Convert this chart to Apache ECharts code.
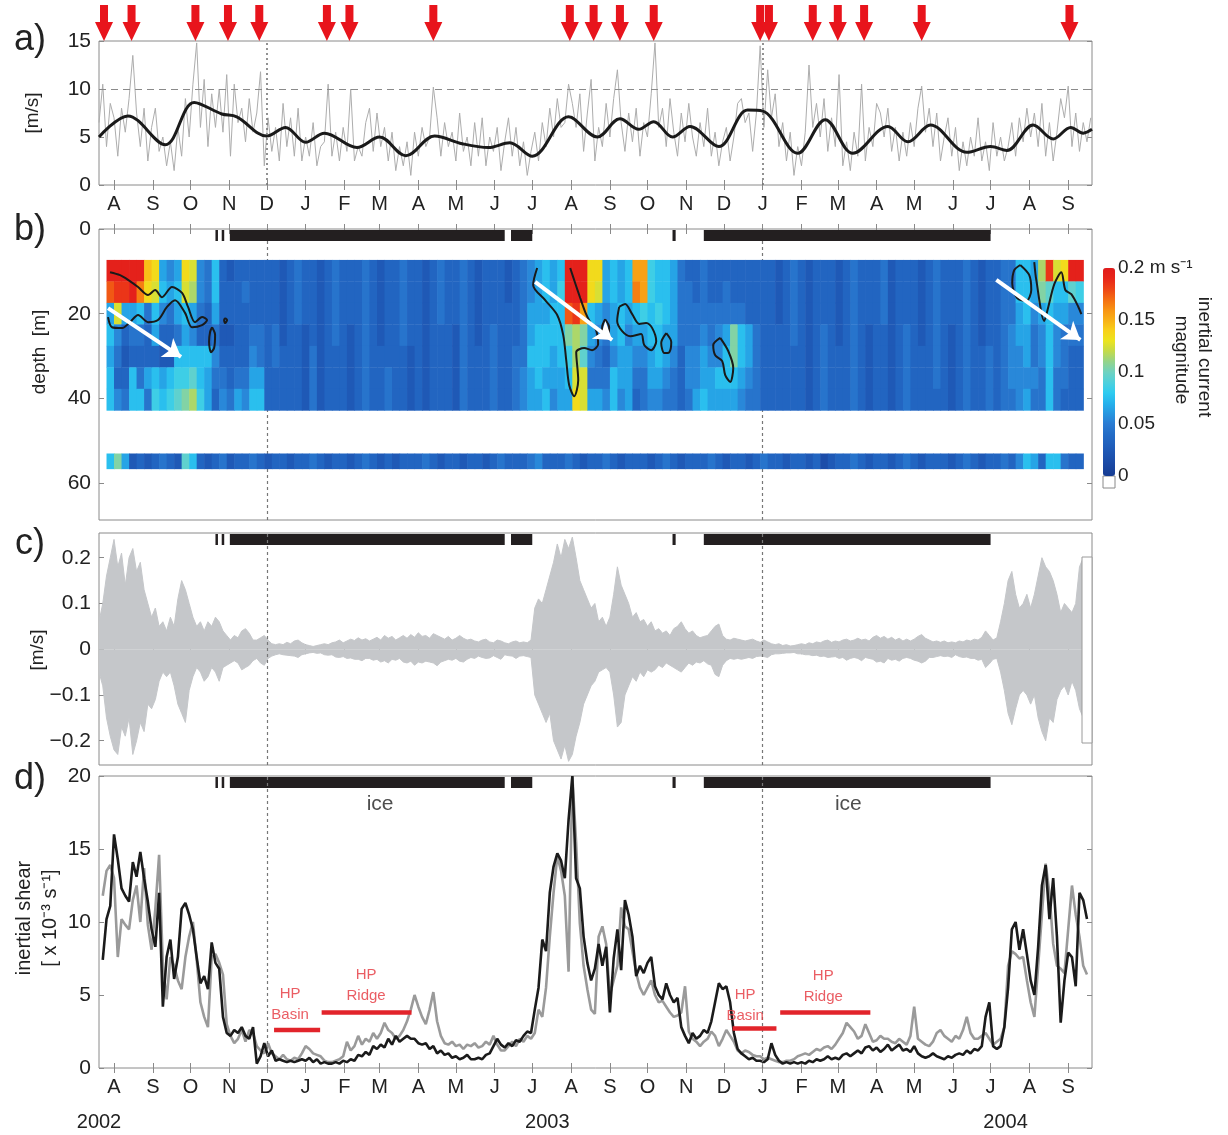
<!DOCTYPE html>
<html><head><meta charset="utf-8">
<script src="https://cdn.jsdelivr.net/npm/echarts@6/dist/echarts.min.js"></script>
<style>html,body{margin:0;padding:0;background:#fff}#c{width:1228px;height:1135px}</style>
</head><body><div id="c"></div>
<script>
const FONT = 'Liberation Sans, Arial, Helvetica, sans-serif';
const DAY = 86400000;
const T0 = Date.parse('2002-08-01');           // day 0
const dayToTime = d => T0 + d * DAY;
const X_MIN = Date.parse('2002-07-20');
const X_MAX = Date.parse('2004-09-20');

// ---- axis ticks / labels ----
const monthTickDates = ['2002-08-01','2002-09-01','2002-10-01','2002-11-01','2002-12-01','2003-01-01','2003-02-01','2003-03-01','2003-04-01','2003-05-01','2003-06-01','2003-07-01','2003-08-01','2003-09-01','2003-10-01','2003-11-01','2003-12-01','2004-01-01','2004-02-01','2004-03-01','2004-04-01','2004-05-01','2004-06-01','2004-07-01','2004-08-01','2004-09-01'];
const monthTickLabels = ['A','S','O','N','D','J','F','M','A','M','J','J','A','S','O','N','D','J','F','M','A','M','J','J','A','S'];
const yearLabelDates = ['2002-07-20','2003-07-13','2004-07-13'];
const yearLabels = ['2002','2003','2004'];
const dashedLineDates = ['2002-12-01','2004-01-01'];
const windTicks = [0,5,10,15];
const depthTicks = [0,20,40,60];
const velTicks = [-0.2,-0.1,0,0.1,0.2];
const shearTicks = [0,5,10,15,20];
const cbarTicks = [0,0.05,0.1,0.15,0.2];

// ---- sampled series (every 3 days starting day -12 = 2002-07-20) ----
const SAMPLE_START_DAY = -12, SAMPLE_STEP_DAYS = 3;

// a) wind speed [m/s]
const windSpeed = [
6.5,10.5,4.0,8.5,7.0,3.0,8.0,5.5,9.0,13.5,
7.5,4.0,8.0,2.5,6.0,8.0,3.5,5.0,2.0,4.5,
1.5,6.0,3.0,9.0,5.0,10.5,14.8,6.0,11.0,4.0,
9.5,6.0,10.0,5.5,11.5,3.0,10.5,6.5,8.0,4.5,
9.0,5.5,7.5,11.8,2.0,7.0,3.5,6.0,2.5,8.5,
4.0,7.0,3.0,8.0,2.5,5.0,3.0,6.5,2.0,4.0,
4.5,10.5,3.0,5.5,2.5,6.0,3.5,10.0,2.5,4.0,
3.0,6.5,8.0,3.5,7.5,4.0,6.0,2.5,5.5,1.5,
4.0,2.0,4.5,1.0,5.5,3.0,6.0,4.0,5.0,10.2,
7.0,3.0,6.5,4.0,5.5,2.5,7.5,3.5,5.0,2.0,
6.5,3.0,7.0,2.0,5.0,3.5,6.0,1.5,4.5,7.0,
3.0,6.0,2.0,4.5,1.0,3.5,5.5,2.5,6.5,4.0,
8.0,5.0,9.0,6.0,6.5,10.5,8.5,6.0,9.5,3.5,
7.5,11.0,2.5,6.0,4.0,8.5,5.0,9.0,12.0,6.5,
3.5,7.5,4.5,8.0,3.0,6.5,5.0,9.5,14.8,6.0,
8.0,4.0,9.0,5.5,3.0,7.5,4.5,8.5,5.0,3.0,
6.5,4.0,8.0,3.0,5.5,2.0,4.5,6.0,2.5,5.0,
8.5,9.0,6.5,7.5,3.5,7.5,14.5,6.0,12.0,7.0,
9.5,4.0,6.5,2.5,5.5,1.0,4.0,2.0,5.5,12.5,
6.0,8.5,5.0,9.0,3.5,7.0,4.0,11.5,2.0,4.5,
1.5,5.5,3.0,10.5,2.5,6.0,4.0,8.5,7.5,5.0,
8.0,3.5,6.0,2.5,5.5,3.0,6.5,4.0,8.0,10.3,
5.5,8.0,4.0,7.5,2.5,5.0,7.0,3.0,6.0,1.5,
4.5,2.0,5.0,3.0,7.0,2.5,4.5,1.5,6.5,3.0,
5.0,2.5,4.0,6.5,3.0,7.0,4.5,8.0,5.0,7.5,
4.0,8.5,3.0,6.5,2.5,5.5,9.0,7.0,10.3,4.0,
7.5,3.5,6.5,4.5,7.0];

// a) low-passed wind speed (black)
const windMeanDays = [-12,11,41,64,86,98,122,137,153,168,194,212,233,256,278,299,316,334,363,386,404,419,431,446,460,483,506,518,546,568,590,618,634,652,681,700,713,734,750,764,774,781];
const windMeanVals = [5.0,7.2,4.2,8.6,7.4,7.1,5.1,6.0,4.45,5.4,3.9,5.0,3.05,5.1,4.3,3.9,4.4,3.0,7.1,5.0,6.9,5.8,6.6,5.0,6.1,4.0,7.8,7.7,3.3,6.8,3.3,6.1,4.5,6.25,3.4,4.0,3.6,6.25,4.8,6.0,5.4,5.8];

// a) wind events (red arrows), day offsets
const windEventDays = [-8,14,65,91,116,170,188,255,364,383,404,431,516,523,558,578,599,645,763];

// c) inertial current envelope [m/s]
const inertialUpper = [
0.06,0.10,0.16,0.20,0.24,0.18,0.21,0.14,0.20,0.22,
0.17,0.19,0.13,0.10,0.07,0.09,0.05,0.06,0.04,0.07,
0.05,0.11,0.15,0.13,0.10,0.07,0.05,0.06,0.04,0.06,
0.05,0.07,0.06,0.04,0.03,0.02,0.03,0.025,0.04,0.045,
0.035,0.02,0.02,0.025,0.03,0.02,0.012,0.01,0.012,0.01,
0.015,0.012,0.018,0.02,0.014,0.01,0.008,0.006,0.008,0.01,
0.012,0.01,0.014,0.016,0.02,0.014,0.018,0.022,0.019,0.025,
0.02,0.023,0.018,0.022,0.026,0.02,0.03,0.024,0.028,0.02,
0.025,0.03,0.024,0.032,0.026,0.036,0.028,0.03,0.024,0.034,
0.03,0.026,0.022,0.028,0.02,0.024,0.03,0.024,0.02,0.022,
0.018,0.016,0.02,0.022,0.016,0.014,0.02,0.018,0.014,0.012,
0.016,0.018,0.014,0.016,0.014,0.02,0.09,0.11,0.10,0.13,
0.16,0.19,0.23,0.20,0.24,0.22,0.245,0.20,0.15,0.13,
0.11,0.09,0.10,0.06,0.07,0.05,0.07,0.12,0.18,0.14,
0.12,0.10,0.07,0.08,0.06,0.065,0.05,0.06,0.04,0.045,
0.035,0.04,0.03,0.045,0.05,0.06,0.045,0.035,0.04,0.03,
0.025,0.028,0.03,0.04,0.05,0.055,0.03,0.022,0.02,0.024,
0.022,0.02,0.018,0.02,0.022,0.018,0.015,0.02,0.016,0.012,
0.01,0.012,0.008,0.01,0.007,0.008,0.01,0.012,0.01,0.014,
0.012,0.016,0.014,0.018,0.02,0.015,0.018,0.016,0.02,0.022,
0.018,0.02,0.024,0.02,0.022,0.018,0.026,0.03,0.024,0.028,
0.022,0.026,0.02,0.024,0.018,0.022,0.018,0.022,0.028,0.032,
0.024,0.02,0.016,0.018,0.015,0.018,0.014,0.016,0.014,0.018,
0.016,0.02,0.018,0.022,0.02,0.026,0.04,0.03,0.02,0.025,
0.06,0.10,0.15,0.17,0.12,0.09,0.10,0.12,0.09,0.12,
0.16,0.20,0.18,0.17,0.15,0.12,0.08,0.10,0.09,0.08,
0.10,0.18,0.20,0.12,null];
const inertialLower = [
-0.05,-0.08,-0.15,-0.19,-0.22,-0.23,-0.17,-0.19,-0.15,-0.23,
-0.20,-0.16,-0.18,-0.12,-0.13,-0.11,-0.07,-0.05,-0.06,-0.05,
-0.08,-0.12,-0.14,-0.16,-0.09,-0.06,-0.04,-0.05,-0.07,-0.06,
-0.04,-0.05,-0.07,-0.04,-0.035,-0.03,-0.025,-0.03,-0.045,-0.04,
-0.035,-0.025,-0.02,-0.03,-0.035,-0.02,-0.015,-0.012,-0.01,-0.012,
-0.013,-0.014,-0.015,-0.018,-0.012,-0.01,-0.008,-0.007,-0.009,-0.008,
-0.012,-0.013,-0.012,-0.017,-0.018,-0.016,-0.02,-0.019,-0.022,-0.022,
-0.025,-0.02,-0.02,-0.024,-0.022,-0.028,-0.025,-0.03,-0.022,-0.024,
-0.02,-0.028,-0.03,-0.026,-0.035,-0.028,-0.03,-0.026,-0.028,-0.03,
-0.036,-0.028,-0.025,-0.022,-0.024,-0.02,-0.026,-0.028,-0.022,-0.018,
-0.02,-0.015,-0.018,-0.02,-0.019,-0.014,-0.018,-0.022,-0.012,-0.014,
-0.015,-0.02,-0.015,-0.014,-0.016,-0.018,-0.10,-0.12,-0.14,-0.16,
-0.14,-0.20,-0.22,-0.24,-0.21,-0.245,-0.23,-0.19,-0.16,-0.12,
-0.10,-0.08,-0.07,-0.05,-0.045,-0.04,-0.05,-0.10,-0.17,-0.16,
-0.10,-0.08,-0.06,-0.07,-0.05,-0.06,-0.045,-0.05,-0.045,-0.035,
-0.04,-0.03,-0.035,-0.04,-0.045,-0.05,-0.04,-0.03,-0.035,-0.028,
-0.03,-0.025,-0.032,-0.035,-0.055,-0.06,-0.035,-0.025,-0.02,-0.022,
-0.02,-0.022,-0.02,-0.018,-0.02,-0.016,-0.015,-0.016,-0.018,-0.012,
-0.01,-0.01,-0.009,-0.008,-0.008,-0.007,-0.01,-0.01,-0.012,-0.012,
-0.014,-0.013,-0.016,-0.015,-0.018,-0.017,-0.016,-0.02,-0.018,-0.024,
-0.02,-0.018,-0.02,-0.025,-0.018,-0.02,-0.022,-0.028,-0.026,-0.03,
-0.02,-0.024,-0.022,-0.026,-0.02,-0.018,-0.02,-0.024,-0.026,-0.03,
-0.026,-0.018,-0.018,-0.016,-0.014,-0.016,-0.015,-0.018,-0.012,-0.016,
-0.018,-0.017,-0.02,-0.02,-0.024,-0.022,-0.04,-0.032,-0.022,-0.02,
-0.05,-0.09,-0.14,-0.165,-0.13,-0.10,-0.09,-0.10,-0.12,-0.10,
-0.15,-0.18,-0.20,-0.15,-0.16,-0.11,-0.09,-0.08,-0.10,-0.07,
-0.09,-0.13,-0.15,-0.10,null];

// d) inertial shear [x10^-3 s^-1]
const shearBlack = [
null,7.4,10.2,11.1,16.0,14.3,12.3,11.8,11.4,14.1,
13.1,14.8,13.0,11.4,9.5,8.3,12.0,4.2,7.6,8.8,
6.1,7.6,10.9,11.3,10.5,9.5,7.6,5.8,6.3,5.4,
8.6,7.2,6.8,3.5,2.4,2.2,2.6,2.4,2.8,2.2,
2.0,2.8,0.3,0.8,1.7,0.8,1.2,0.5,0.6,0.5,
0.4,0.5,0.4,0.5,0.6,0.5,0.7,0.4,0.6,0.3,
0.4,0.3,0.3,0.4,0.3,0.5,0.4,0.6,0.5,0.9,
0.8,1.1,0.9,1.5,1.3,1.6,1.4,2.0,1.6,2.2,
1.8,2.0,2.2,2.0,2.0,1.7,1.6,1.7,1.3,1.5,
1.0,1.2,0.9,1.0,0.7,0.8,0.6,0.7,0.9,0.6,
0.6,0.7,0.6,0.9,1.0,1.5,2.0,1.6,1.4,1.7,
1.5,1.9,1.8,2.2,2.5,2.4,4.0,5.5,8.8,8.0,
12.0,13.8,14.7,14.2,13.0,17.0,20.0,13.0,12.3,9.0,
7.2,6.0,6.8,8.5,7.0,8.3,3.8,7.5,9.5,6.7,
11.5,10.5,9.0,6.3,7.0,6.5,7.2,7.6,5.6,5.0,
4.7,5.8,5.0,4.5,4.8,2.8,2.2,1.7,2.4,2.0,
2.2,2.6,2.4,3.2,4.5,5.8,5.4,5.6,4.5,2.4,
1.3,1.0,0.8,0.6,0.7,0.5,0.5,0.4,0.6,1.7,
0.9,0.5,0.3,0.4,0.3,0.4,0.3,0.4,0.3,0.5,
0.4,0.6,0.5,0.6,0.8,0.6,0.7,0.6,0.9,1.0,
0.8,1.0,1.2,1.0,1.4,1.5,1.2,1.4,1.1,1.3,
1.6,1.2,1.4,1.6,1.2,1.3,1.1,1.5,1.0,0.8,
0.7,0.8,1.0,0.8,0.7,0.6,0.8,0.7,0.9,1.0,
0.9,1.2,1.0,1.3,1.2,1.5,3.5,4.5,1.5,1.3,
1.5,2.8,5.5,9.5,10.0,8.1,9.5,7.8,6.0,5.0,
8.3,12.5,13.9,10.2,13.0,9.0,3.1,6.0,7.9,7.6,
5.6,12.0,11.5,10.2,null];
const shearGrey = [
null,11.8,13.5,13.9,13.0,7.6,10.2,9.8,9.5,11.5,
12.5,10.0,13.7,9.8,8.1,10.9,14.6,7.0,4.7,7.6,
7.0,6.0,5.4,7.6,9.0,10.0,7.4,4.5,3.5,2.8,
7.6,7.8,7.2,6.4,3.0,2.2,1.7,2.0,2.6,1.8,
2.6,2.4,1.5,1.2,1.0,1.7,1.0,0.8,0.6,0.9,
0.6,0.5,0.7,0.6,1.0,1.5,1.3,1.0,0.9,0.8,
0.5,0.4,0.4,0.5,0.6,0.8,1.8,1.2,1.5,2.2,
1.6,2.0,1.8,2.4,2.0,2.4,3.1,2.6,2.4,2.0,
2.2,2.6,3.2,4.0,5.0,4.2,3.5,3.0,4.0,5.2,
3.2,2.2,1.7,1.6,1.8,1.5,1.6,1.3,1.6,1.5,
1.7,1.4,1.5,1.8,1.6,2.2,1.6,1.2,1.2,1.5,
1.8,1.5,2.0,1.8,2.2,2.0,2.4,4.0,3.5,5.5,
9.0,12.0,14.5,13.5,11.8,6.6,20.0,15.5,9.9,7.0,
5.4,4.0,3.7,9.0,9.7,8.5,5.0,6.0,7.0,11.0,
9.7,9.5,8.0,6.5,5.5,5.0,5.5,6.0,5.0,4.5,
4.6,4.2,3.8,3.5,3.6,3.8,5.6,2.5,2.0,1.8,
1.5,1.8,2.0,2.5,2.2,1.5,2.0,2.6,2.2,1.8,
1.2,1.0,1.2,1.1,0.9,0.8,0.8,0.6,0.7,0.6,
0.5,0.4,0.4,0.5,0.5,0.6,0.8,0.9,1.0,0.9,
1.1,1.3,1.2,1.4,1.5,1.3,1.6,2.0,2.4,3.1,
2.8,2.5,2.0,2.2,3.0,2.4,1.8,1.9,2.2,2.0,
2.0,1.8,1.7,2.0,1.8,1.6,2.2,4.2,2.0,1.8,
1.6,1.5,1.8,2.4,2.6,2.2,2.0,1.8,2.2,2.0,
2.6,3.5,2.4,2.0,2.0,2.2,2.4,2.0,1.6,1.8,
2.0,2.8,7.0,8.0,7.8,7.5,7.6,6.0,4.5,3.5,
7.0,10.5,14.0,12.0,8.5,7.0,6.8,6.5,9.5,12.5,
10.5,9.0,7.0,6.4,null];

// b) inertial current magnitude: 6-day columns from day -6, each string = 7 depth cells top->bottom
// letter a..t => (index)*0.01 + 0.005 m/s
const HEAT_START_DAY = -6, HEAT_STEP_DAYS = 6;
const heatRowDepths = [7.3,12.37,17.44,22.51,27.59,32.66,37.73,42.8];
const heatBandDepths = [53,56.6];
const heatColumns = [
'trghghh','tsmfedf','tsgdcde','ttgedhh','tqhedeh','oneddge','nmhgdhi','ghfdcgh','fgedchi','ghgehij',
'nmhghik','mlgfhjl','ffedhhi','eeddhgg','hhgefed','dddcdef','cddcdde','dddddeg','dedddef','dddefgh',
'dddeegh','ddddddd','dddeedd','ccccddd','ddddddd','eeedddd','dddcccc','ddddeee','ccccccc','ddddddd',
'eeeeddd','ddddddd','dddcccc','ddddddd','eeeeeee','ddddddd','ccccddd','dddddee','ddddddd','eeeeddd',
'ddddccc','ddddddd','ccccccc','ddddddd','eeedddd','ddddddd','dddcccc','eeeeeee','ddddddd','ccccddd',
'ddddddd','dddeeee','ddddddd','ccddddd','ddddeee','eeeeeff','ffgghgg','ggghhhg','hhghhgh','gghhggf',
'hihhhgg','ttrkihg','ttsllmn','ttpkjmm','nnhgfeg','nmgfeeg','ggfedef','hhggfhh','gghhggf','hhgfggg',
'pqhgfed','ppigfee','iihhggf','hhihhgf','hhhggfe','ggggfee','eeeeddd','deeeffe','ddeeffg','eeefggh',
'ddeefgg','ddeffhg','deeghhg','ddekkhg','ddehhgf','dddggfe','dddeeee','ddddddd','ddddddd','cccdddd',
'ddddddd','eeeeddd','ddddddd','ccccccc','ddddddd','dddeeee','ddddddd','ccccddd','ddddddd','eeeeeee',
'ddddddd','dddcccc','ddddddd','eeedddd','ccccccc','ddddddd','dddeeee','ddddddd','ccccddd','ddddddd',
'eeeeeed','ddddddd','dddcccc','ddddddd','eeeeeee','ddddddd','ccccddd','ddddeee','ddddddd','eeeeeee',
'eeefffe','hhggfff','hhhggfg','ggfeefe','lkgffee','sjhhhhh','mhgffee','nhgeeed','tjfeddd','tifeddd'];
const heatBottomBand = 'hkgcdcdedcjhdcdecddedcddcddedcddcdedcdcdddedcddcddcdedddefdddedcddedcdddcdedcdddedcddcdeddcddcdbcddedcddcdedcdddcdedcddedfhgdhhedd';

// contours (day, depth)
const contourLines = [
 [[-3.2,10.2],[4.8,10.9],[11.2,12.0],[19.2,13.7],[27.2,15.6],[32.8,14.4],[38.3,16.1],[46.3,13.7],[54.3,15.1],[59.1,18.4],[64.7,22.0],[70.3,20.8],[74.3,21.5],[70.3,22.7],[62.3,23.2],[56.7,19.8],[48.7,16.8],[42.3,18.4],[35.1,21.5],[27.2,22.0],[19.2,20.3],[12.8,22.0],[6.4,23.4],[-1.6,23.2],[-4.8,20.8]],
 [[78.3,23.2],[80.7,25.0],[79.9,28.1],[77.5,29.1],[75.9,26.7],[76.7,24.3],[78.3,23.2]],
 [[88.7,21.0],[90.3,21.5],[88.7,22.2],[87.9,21.5],[88.7,21.0]],
 [[337.9,9.2],[334.7,13.2],[344.3,16.8],[353.9,20.3],[358.7,25.0],[361.1,30.9],[363.5,36.9],[367.5,39.5],[370.7,35.7],[369.1,29.1],[375.5,28.1],[381.8,28.6],[386.6,27.2],[385.0,23.9],[380.3,22.0],[376.3,19.6],[372.3,16.3],[368.3,12.8],[364.3,9.2]],
 [[392.2,21.3],[395.4,23.2],[393.8,25.7],[390.6,25.3],[389.8,23.2],[392.2,21.3]],
 [[403.4,18.4],[408.2,17.7],[413.8,20.1],[419.4,22.4],[425.0,22.2],[429.8,23.4],[433.0,26.5],[429.0,28.6],[423.4,27.4],[421.0,24.8],[412.2,25.3],[405.8,24.1],[401.8,21.7],[403.4,18.4]],
 [[441.0,24.6],[445.0,26.7],[443.4,29.1],[439.4,29.3],[437.0,26.9],[441.0,24.6]],
 [[484.1,25.7],[490.5,28.8],[494.5,32.8],[492.1,36.1],[488.1,34.5],[485.7,31.2],[480.1,29.8],[478.5,27.4],[484.1,25.7]],
 [[723.7,8.5],[730.9,10.9],[732.5,14.4],[728.5,17.0],[721.3,16.3],[717.3,12.8],[718.9,9.7],[723.7,8.5]],
 [[734.9,7.8],[736.5,12.0],[742.9,21.7],[746.1,18.4],[750.9,13.0],[756.5,10.2],[759.7,14.4],[764.5,15.4],[770.1,18.4],[772.5,20.1]]
];
// white arrows (start day, start depth, end day, end depth)
const deepeningArrows = [[-4.8,18.7,53.5,30.2],[336.3,12.5,397.8,26.2],[704.6,12.0,771.7,26.2]];

// ice cover periods (day ranges)
const iceStartDays = [81,86,92.5,317,446,471];
const iceEndDays   = [83,88,312,334,448.5,700];

// HP Basin / HP Ridge bars
const hpBarStartDays = [127.8,165.8,494,532];
const hpBarEndDays   = [164.6,237.6,529,604];
const hpBarLevels    = [2.6,3.8,2.7,3.8];
const hpLabelDays    = [140.6,201.3,504,566.4];
const hpLabelLevels  = [4.35,5.65,4.3,5.6];
const hpLabelTexts   = ['HP\nBasin','HP\nRidge','HP\nBasin','HP\nRidge'];
const iceLabelDays   = [212.5,586.4];

// ---------- build ----------
const sampled = arr => arr.map((v,i) => [dayToTime(SAMPLE_START_DAY + SAMPLE_STEP_DAYS*i), v]);
const levelValue = ch => (ch.charCodeAt(0) - 97) * 0.01 + 0.005;
const heatCells = [];
heatColumns.forEach((col,k) => {
  const t0 = dayToTime(HEAT_START_DAY + k*HEAT_STEP_DAYS), t1 = dayToTime(HEAT_START_DAY + (k+1)*HEAT_STEP_DAYS);
  for (let r = 0; r < col.length; r++) heatCells.push([t0, t1, heatRowDepths[r], heatRowDepths[r+1], levelValue(col[r])]);
  heatCells.push([t0, t1, heatBandDepths[0], heatBandDepths[1], levelValue(heatBottomBand[k])]);
});

const monthTicks = monthTickDates.map(s => Date.parse(s));
const monthLabelMap = {}; monthTicks.forEach((t,i) => monthLabelMap[t] = monthTickLabels[i]);
const yearTicks = yearLabelDates.map(s => Date.parse(s));
const yearLabelMap = {}; yearTicks.forEach((t,i) => yearLabelMap[t] = yearLabels[i]);
const dashTimes = dashedLineDates.map(s => Date.parse(s));

const FRAME = '#8a8a8a';
function timeAxis(g, pos, showLabel) {
  return { type:'value', gridIndex:g, position:pos, min:X_MIN, max:X_MAX, scale:true,
    axisLine:{show:false}, splitLine:{show:false}, axisPointer:{show:false},
    axisTick:{show:true, inside:true, length:5, customValues:monthTicks, lineStyle:{color:FRAME}},
    axisLabel:{show:showLabel, customValues:monthTicks, formatter:v => monthLabelMap[v] || '', fontSize:20, color:'#222', fontFamily:FONT, margin:9} };
}
function valAxis(g, pos, min, max, ticks, showLabel, fmt, inverse) {
  return { type:'value', gridIndex:g, position:pos, min, max, inverse:!!inverse,
    axisLine:{show:false}, splitLine:{show:false},
    axisTick:{show:true, inside:true, length:5, customValues:ticks, lineStyle:{color:FRAME}},
    axisLabel:{show:showLabel, customValues:ticks, formatter:fmt || (v => String(v)), fontSize:21, color:'#222', fontFamily:FONT, margin:8} };
}
const velFmt = v => v < 0 ? '\u2212' + Math.abs(v) : String(v);

const L = 99, W = 993;
const gridStyle = {show:true, borderColor:FRAME, borderWidth:1, backgroundColor:'rgba(0,0,0,0)'};
const grids = [
  Object.assign({left:L, width:W, top:41, height:144}, gridStyle),
  Object.assign({left:L, width:W, top:229, height:291}, gridStyle),
  Object.assign({left:L, width:W, top:533, height:232}, gridStyle),
  Object.assign({left:L, width:W, top:776, height:292}, gridStyle),
  {left:1103, width:12, top:268, height:208, show:false}
];
const xAxes = [
  timeAxis(0,'bottom',true), timeAxis(0,'top',false),
  timeAxis(1,'bottom',false), timeAxis(1,'top',false),
  timeAxis(2,'bottom',false), timeAxis(2,'top',false),
  timeAxis(3,'bottom',true), timeAxis(3,'top',false),
  { type:'value', gridIndex:3, position:'bottom', min:X_MIN, max:X_MAX, scale:true, axisLine:{show:false}, axisTick:{show:false}, splitLine:{show:false},
    axisLabel:{customValues:yearTicks, formatter:v => yearLabelMap[v] || '', fontSize:20, color:'#222', fontFamily:FONT, margin:44} },
  { type:'value', gridIndex:4, show:false, min:0, max:1 }
];
const yAxes = [
  valAxis(0,'left',0,15,windTicks,true), valAxis(0,'right',0,15,windTicks,false),
  valAxis(1,'left',0,68.7,depthTicks,true,null,true), valAxis(1,'right',0,68.7,depthTicks,false,null,true),
  valAxis(2,'left',-0.253,0.254,velTicks,true,velFmt), valAxis(2,'right',-0.253,0.254,velTicks,false,velFmt),
  valAxis(3,'left',0,20,shearTicks,true), valAxis(3,'right',0,20,shearTicks,false),
  { type:'value', gridIndex:4, position:'right', min:0, max:0.2, axisLine:{show:false}, axisTick:{show:false}, splitLine:{show:false},
    axisLabel:{customValues:cbarTicks, formatter:v => v === 0.2 ? '0.2 m s\u207B\u00B9' : String(v), fontSize:19, color:'#222', fontFamily:FONT, margin:3} }
];

const dashStyle = {type:[3,3], color:'#777', width:1.2};
const vertMarks = z => ({ silent:true, symbol:'none', z:z, label:{show:false}, animation:false,
  data: dashTimes.map(t => ({xAxis:t, lineStyle:dashStyle})) });

const series = [];
// a)
series.push({ type:'line', xAxisIndex:0, yAxisIndex:0, data:sampled(windSpeed), symbol:'none', z:2,
  lineStyle:{color:'#adadad', width:1}, itemStyle:{color:'#adadad'},
  markLine:{ silent:true, symbol:'none', label:{show:false}, animation:false,
    data:[{yAxis:10, lineStyle:{type:[7,5], color:'#8a8a8a', width:1}}].concat(dashTimes.map(t => ({xAxis:t, lineStyle:{type:[2,3], color:'#777', width:1.6}}))) } });
series.push({ type:'line', xAxisIndex:0, yAxisIndex:0, data:windMeanDays.map((d,i) => [dayToTime(d), windMeanVals[i]]),
  symbol:'none', smooth:0.35, z:3, lineStyle:{color:'#1a1a1a', width:3}, itemStyle:{color:'#1a1a1a'} });
series.push({ type:'scatter', xAxisIndex:0, yAxisIndex:0, clip:false, z:10, silent:true,
  symbol:'path://M5,0 L13,0 L13,17 L18,17 L9,36 L0,17 L5,17 Z', symbolSize:[18,36], symbolKeepAspect:false,
  itemStyle:{color:'#e8141c', opacity:1}, data:windEventDays.map(d => [dayToTime(d), 16.88]) });

// b) heat map
const heatIdx = series.length;
series.push({ type:'custom', xAxisIndex:2, yAxisIndex:2, z:3, silent:true,
  encode:{x:[0,1], y:[2,3]}, data:heatCells,
  renderItem:(params, api) => {
    const p0 = api.coord([api.value(0), api.value(2)]);
    const p1 = api.coord([api.value(1), api.value(3)]);
    return { type:'rect', shape:{x:p0[0], y:p0[1], width:p1[0]-p0[0]+0.6, height:p1[1]-p0[1]+0.4}, style:{fill:api.visual('color')} };
  },
  markLine:{ silent:true, z:6, symbol:['none','arrow'], symbolSize:17, label:{show:false}, animation:false,
    lineStyle:{color:'#ffffff', width:4, type:'solid'},
    data: deepeningArrows.map(a => [{coord:[dayToTime(a[0]), a[1]]}, {coord:[dayToTime(a[2]), a[3]]}]) } });
contourLines.forEach(c => series.push({ type:'line', xAxisIndex:2, yAxisIndex:2, z:4, silent:true, symbol:'none', smooth:0.3,
  lineStyle:{color:'#1a1a1a', width:2}, itemStyle:{color:'#1a1a1a'}, data:c.map(p => [dayToTime(p[0]), p[1]]) }));

function iceSeries(xi, yi, yVal, markZ) {
  return { type:'custom', xAxisIndex:xi, yAxisIndex:yi, z:2, silent:true, encode:{x:[0,1], y:2},
    data: iceStartDays.map((d,i) => [dayToTime(d), dayToTime(iceEndDays[i]), yVal]),
    renderItem:(params, api) => {
      const x0 = api.coord([api.value(0), api.value(2)])[0];
      const x1 = api.coord([api.value(1), api.value(2)])[0];
      return { type:'rect', shape:{x:x0, y:params.coordSys.y + 1, width:Math.max(x1-x0, 2), height:11}, style:{fill:'#231f20'} };
    },
    markLine: vertMarks(markZ) };
}
series.push(iceSeries(2, 2, 1, 1));

// c)
series.push({ type:'line', xAxisIndex:4, yAxisIndex:4, data:sampled(inertialUpper), symbol:'none', z:2,
  lineStyle:{color:'#c5c7ca', width:1}, itemStyle:{color:'#c5c7ca'}, areaStyle:{color:'#c5c7ca', opacity:1, origin:'auto'} });
series.push({ type:'line', xAxisIndex:4, yAxisIndex:4, data:sampled(inertialLower), symbol:'none', z:2,
  lineStyle:{color:'#c5c7ca', width:1}, itemStyle:{color:'#c5c7ca'}, areaStyle:{color:'#c5c7ca', opacity:1, origin:'auto'} });
series.push(iceSeries(4, 4, 0.25, 5));

// d)
series.push({ type:'line', xAxisIndex:6, yAxisIndex:6, data:sampled(shearGrey), symbol:'none', z:3,
  lineStyle:{color:'#9a9a9a', width:2.6}, itemStyle:{color:'#9a9a9a'} });
series.push({ type:'line', xAxisIndex:6, yAxisIndex:6, data:sampled(shearBlack), symbol:'none', z:4,
  lineStyle:{color:'#1b1b1b', width:2.6}, itemStyle:{color:'#1b1b1b'} });
series.push(iceSeries(6, 6, 20, 5));
hpBarStartDays.forEach((d,i) => series.push({ type:'line', xAxisIndex:6, yAxisIndex:6, z:6, silent:true, symbol:'none',
  lineStyle:{color:'#e2242b', width:4.5}, itemStyle:{color:'#e2242b'},
  data:[[dayToTime(d), hpBarLevels[i]], [dayToTime(hpBarEndDays[i]), hpBarLevels[i]]] }));
series.push({ type:'scatter', xAxisIndex:6, yAxisIndex:6, z:7, silent:true, symbolSize:0,
  data: hpLabelDays.map((d,i) => ({value:[dayToTime(d), hpLabelLevels[i]], name:hpLabelTexts[i]})),
  label:{show:true, position:'inside', formatter:'{b}', color:'#e5353c', fontSize:15, lineHeight:21, fontFamily:FONT, align:'center'} });
series.push({ type:'scatter', xAxisIndex:6, yAxisIndex:6, z:7, silent:true, symbolSize:0,
  data: iceLabelDays.map(d => ({value:[dayToTime(d), 18.1], name:'ice'})),
  label:{show:true, position:'inside', formatter:'{b}', color:'#222', fontSize:21, fontFamily:FONT} });

const jet = ['#163c92','#1a47a2','#1d53b0','#205fbc','#236cc6','#2a7bd2','#2796e0','#25b2ec','#2ecbf0','#4ed0dc','#6fd2c0',
             '#94d48a','#c4da4a','#ece41e','#f8d01a','#f8b016','#f89212','#f46c12','#ee4416','#e8261a','#e01c1c'];

const txt = (text, x, y, size, rot, extra) => Object.assign({ type:'text', x, y, rotation:rot || 0, silent:true,
  style:{text, fontSize:size, fontFamily:FONT, fill:'#222', align:'center', verticalAlign:'middle'} }, extra || {});

const option = {
  animation:false, backgroundColor:'#fff',
  textStyle:{fontFamily:FONT},
  grid:grids, xAxis:xAxes, yAxis:yAxes, series,
  visualMap:[{ type:'continuous', seriesIndex:heatIdx, dimension:4, min:0, max:0.2, calculable:false, hoverLink:false,
    inRange:{color:jet}, itemWidth:12, itemHeight:208, left:1103, top:268, padding:0, text:null, showLabel:false }],
  graphic:[
    txt('a)', 30, 40, 36), txt('b)', 30, 230, 36), txt('c)', 30, 544, 36), txt('d)', 30, 779, 36),
    txt('[m/s]', 33, 113, 19, Math.PI/2),
    txt('depth  [m]', 40, 352, 19, Math.PI/2),
    txt('[m/s]', 38, 650, 19, Math.PI/2),
    txt('inertial shear', 24, 918, 20, Math.PI/2),
    txt('[ x 10\u207B\u00B3 s\u207B\u00B9]', 50, 918, 20, Math.PI/2),
    txt('inertial current', 1204, 357, 19, -Math.PI/2),
    txt('magnitude', 1181, 360, 19, -Math.PI/2),
    { type:'rect', silent:true, shape:{x:1103, y:476, width:12, height:12}, style:{fill:'#fff', stroke:'#8a8a8a', lineWidth:1} },
    { type:'rect', silent:true, z:10, shape:{x:1082, y:557, width:10, height:186}, style:{fill:'#fff', stroke:'#9a9a9a', lineWidth:1} }
  ]
};
const chart = echarts.init(document.getElementById('c'), null, {renderer:'canvas'});
chart.setOption(option);
</script></body></html>
